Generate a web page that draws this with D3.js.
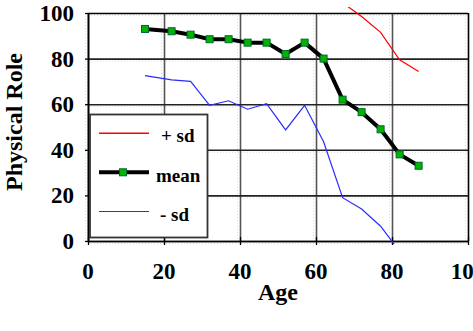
<!DOCTYPE html>
<html><head><meta charset="utf-8">
<script src="https://cdn.jsdelivr.net/npm/d3@7"></script>
<style>
html,body{margin:0;padding:0;background:#fff;}
svg{display:block;}
text{font-family:"Liberation Serif","Times New Roman",serif;font-weight:bold;fill:#000;}
</style></head><body>
<svg id="c" width="473" height="331"></svg>
<script>
const ages = [15, 22, 27, 32, 37, 42, 47, 52, 57, 62, 67, 72, 77, 82, 87];
const meanVals = [93, 92, 90.5, 88.5, 88.5, 87, 87, 82, 87, 80, 62, 56.5, 49, 38, 33];
const minusSdVals = [72.5, 70.7, 70, 59.5, 61.5, 57.8, 60.2, 48.7, 59.5, 43.5, 19, 14, 6.5, -4.6];
const plusSdAges = [67, 72, 77, 82, 87];
const plusSdVals = [104.5, 98.5, 91.5, 79.5, 74.3];
const xTicks = [0, 20, 40, 60, 80, 100];
const yTicks = [0, 20, 40, 60, 80, 100];
const legendLabels = ["+ sd", "mean", "- sd"];

const svg = d3.select("#c");
const x = d3.scaleLinear().domain([0, 100]).range([88, 468]);
const y = d3.scaleLinear().domain([0, 100]).range([241, 13]);

// faint dotted shadow lines
const g0 = svg.append("g");
yTicks.forEach(t => {
  g0.append("line").attr("x1", x(0)).attr("x2", x(100)).attr("y1", y(t) + 2.5).attr("y2", y(t) + 2.5)
    .attr("stroke", "#ddd").attr("stroke-width", 1).attr("stroke-dasharray", "1,2");
});
xTicks.forEach(t => {
  g0.append("line").attr("x1", x(t) - 2.5).attr("x2", x(t) - 2.5).attr("y1", y(100)).attr("y2", y(0))
    .attr("stroke", "#ddd").attr("stroke-width", 1).attr("stroke-dasharray", "1,2");
});

// vertical gridlines
const gx = svg.append("g").attr("transform", `translate(0,${y(0)})`)
  .call(d3.axisBottom(x).tickValues(xTicks).tickSize(-(y(0) - y(100))).tickFormat(""));
gx.select(".domain").remove();
gx.selectAll(".tick line").attr("stroke", d => (d === 0 || d === 100) ? "#000" : "#555").attr("stroke-width", 1.6);

// horizontal gridlines
const gy = svg.append("g").attr("transform", `translate(${x(0)},0)`)
  .call(d3.axisLeft(y).tickValues(yTicks).tickSize(-(x(100) - x(0))).tickFormat(""));
gy.select(".domain").remove();
gy.selectAll(".tick line").attr("stroke", d => d === 100 ? "#000" : "#222").attr("stroke-width", 1.6);

// axes lines with ticks
const ax = svg.append("g").attr("transform", `translate(0,${y(0)})`)
  .call(d3.axisBottom(x).tickValues(xTicks).tickSize(4).tickSizeOuter(0).tickFormat(""));
ax.select(".domain").attr("stroke", "#000").attr("stroke-width", 1.6);
ax.selectAll(".tick line").attr("stroke", "#000").attr("stroke-width", 1.3).attr("y1", -4);
const ay = svg.append("g").attr("transform", `translate(${x(0)},0)`)
  .call(d3.axisLeft(y).tickValues(yTicks).tickSize(3).tickSizeOuter(0).tickFormat(""));
ay.select(".domain").attr("stroke", "#000").attr("stroke-width", 1.6);
ay.selectAll(".tick line").attr("stroke", "#000").attr("stroke-width", 1.3);

// tick labels
svg.append("g").selectAll("text").data(yTicks).join("text")
  .attr("x", 74).attr("y", d => y(d) + 8).attr("text-anchor", "end").attr("font-size", 23).text(d => d);
svg.append("g").selectAll("text").data(xTicks).join("text")
  .attr("x", d => x(d)).attr("y", 279).attr("text-anchor", "middle").attr("font-size", 23).text(d => d);

// axis titles
svg.append("text").attr("x", 278).attr("y", 300).attr("text-anchor", "middle").attr("font-size", 24).text("Age");
svg.append("text").attr("transform", "translate(22,122) rotate(-90)").attr("text-anchor", "middle")
  .attr("font-size", 24).text("Physical Role");

// clip
svg.append("clipPath").attr("id", "clip").append("rect")
  .attr("x", x(0)).attr("y", 7).attr("width", x(100) - x(0)).attr("height", 244 - 7);
const plot = svg.append("g").attr("clip-path", "url(#clip)");

const line = d3.line().x(d => x(d[0])).y(d => y(d[1]));
plot.append("path").datum(plusSdAges.map((a, i) => [a, plusSdVals[i]]))
  .attr("d", line).attr("fill", "none").attr("stroke", "#ff0000").attr("stroke-width", 1.2);
plot.append("path").datum(minusSdVals.map((v, i) => [ages[i], v]))
  .attr("d", line).attr("fill", "none").attr("stroke", "#2b2bff").attr("stroke-width", 1.2);
plot.append("path").datum(meanVals.map((v, i) => [ages[i], v]))
  .attr("d", line).attr("fill", "none").attr("stroke", "#000").attr("stroke-width", 4).attr("stroke-linejoin", "round");
plot.append("g").selectAll("rect").data(meanVals.map((v, i) => [ages[i], v])).join("rect")
  .attr("x", d => x(d[0]) - 3.5).attr("y", d => y(d[1]) - 3.5).attr("width", 7).attr("height", 7)
  .attr("fill", "#00b400").attr("stroke", "#063").attr("stroke-width", 1);

// legend
const lg = svg.append("g");
lg.append("rect").attr("x", 90).attr("y", 114.5).attr("width", 117.5).attr("height", 123)
  .attr("fill", "#fff").attr("stroke", "#333").attr("stroke-width", 1.8);
const ly = [133.3, 172.3, 211.5];
const lcol = ["#ff0000", "#000", "#2b2bff"];
const lw = [1.6, 4, 1.2];
const lx = [161, 156, 160];
const lby = [142, 181.5, 221];
legendLabels.forEach((lab, i) => {
  lg.append("line").attr("x1", 99).attr("x2", 149).attr("y1", ly[i]).attr("y2", ly[i])
    .attr("stroke", lcol[i]).attr("stroke-width", lw[i]);
  if (i === 1) {
    lg.append("rect").attr("x", 123 - 3.5).attr("y", ly[i] - 3.5).attr("width", 7).attr("height", 7)
      .attr("fill", "#00b400").attr("stroke", "#063").attr("stroke-width", 1);
  }
  lg.append("text").attr("x", lx[i]).attr("y", lby[i]).attr("font-size", 19).text(lab);
});
</script>
</body></html>
